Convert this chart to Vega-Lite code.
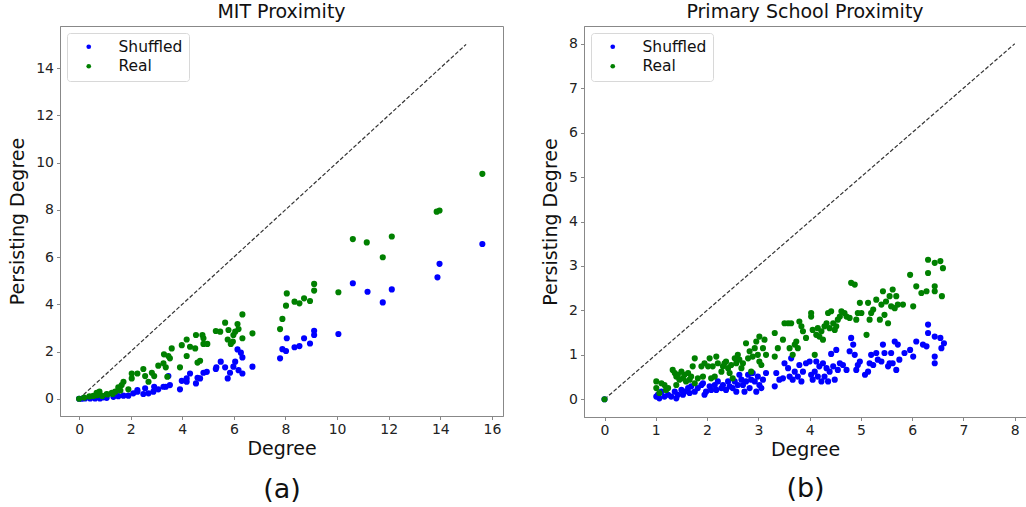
{
 "$schema": "https://vega.github.io/schema/vega-lite/v6.json",
 "padding": {"left": 8, "top": 2, "right": 0, "bottom": 0},
 "background": "white",
 "datasets": {
  "diagA": [{"d": 0, "p": 0}, {"d": 15, "p": 15}],
  "diagB": [{"d": 0, "p": 0}, {"d": 8, "p": 8}],
  "mit": [
   {"d":15.63,"p":6.55,"s":"Shuffled"},{"d":13.97,"p":5.71,"s":"Shuffled"},{"d":13.89,"p":5.14,"s":"Shuffled"},{"d":10.61,"p":4.89,"s":"Shuffled"},{"d":11.18,"p":4.53,"s":"Shuffled"},{"d":11.77,"p":4.08,"s":"Shuffled"},{"d":12.12,"p":4.63,"s":"Shuffled"},{"d":10.05,"p":2.74,"s":"Shuffled"},{"d":9.11,"p":2.88,"s":"Shuffled"},{"d":9.11,"p":2.7,"s":"Shuffled"},{"d":8.95,"p":2.34,"s":"Shuffled"},{"d":8.72,"p":2.56,"s":"Shuffled"},{"d":8.54,"p":2.23,"s":"Shuffled"},{"d":8.35,"p":2.18,"s":"Shuffled"},{"d":8.05,"p":2.56,"s":"Shuffled"},{"d":8.02,"p":2.02,"s":"Shuffled"},{"d":7.88,"p":2.1,"s":"Shuffled"},{"d":7.79,"p":1.71,"s":"Shuffled"},{"d":6.72,"p":1.36,"s":"Shuffled"},{"d":6.33,"p":1.75,"s":"Shuffled"},{"d":6.33,"p":1.07,"s":"Shuffled"},{"d":6.27,"p":1.95,"s":"Shuffled"},{"d":6.14,"p":2.09,"s":"Shuffled"},{"d":6.18,"p":1.21,"s":"Shuffled"},{"d":6.05,"p":1.57,"s":"Shuffled"},{"d":5.98,"p":1.36,"s":"Shuffled"},{"d":5.85,"p":1.1,"s":"Shuffled"},{"d":5.76,"p":0.86,"s":"Shuffled"},{"d":5.66,"p":1.33,"s":"Shuffled"},{"d":5.49,"p":1.57,"s":"Shuffled"},{"d":5.32,"p":1.33,"s":"Shuffled"},{"d":5.3,"p":1.26,"s":"Shuffled"},{"d":4.95,"p":1.14,"s":"Shuffled"},{"d":4.82,"p":1.1,"s":"Shuffled"},{"d":4.69,"p":0.86,"s":"Shuffled"},{"d":4.59,"p":0.89,"s":"Shuffled"},{"d":4.53,"p":0.65,"s":"Shuffled"},{"d":4.3,"p":1.07,"s":"Shuffled"},{"d":4.17,"p":0.86,"s":"Shuffled"},{"d":4.17,"p":0.72,"s":"Shuffled"},{"d":3.98,"p":0.76,"s":"Shuffled"},{"d":3.91,"p":0.4,"s":"Shuffled"},{"d":3.52,"p":0.58,"s":"Shuffled"},{"d":3.46,"p":0.96,"s":"Shuffled"},{"d":3.36,"p":0.51,"s":"Shuffled"},{"d":3.27,"p":0.51,"s":"Shuffled"},{"d":3.07,"p":0.4,"s":"Shuffled"},{"d":2.91,"p":0.51,"s":"Shuffled"},{"d":2.88,"p":0.3,"s":"Shuffled"},{"d":2.69,"p":0.23,"s":"Shuffled"},{"d":2.56,"p":0.44,"s":"Shuffled"},{"d":2.49,"p":0.2,"s":"Shuffled"},{"d":2.26,"p":0.3,"s":"Shuffled"},{"d":2.26,"p":0.37,"s":"Shuffled"},{"d":2.1,"p":0.23,"s":"Shuffled"},{"d":1.91,"p":0.13,"s":"Shuffled"},{"d":1.72,"p":0.13,"s":"Shuffled"},{"d":1.52,"p":0.11,"s":"Shuffled"},{"d":1.33,"p":0.08,"s":"Shuffled"},{"d":1.07,"p":0.04,"s":"Shuffled"},{"d":0.94,"p":0.06,"s":"Shuffled"},{"d":0.81,"p":0.01,"s":"Shuffled"},{"d":0.62,"p":0.01,"s":"Shuffled"},{"d":0.43,"p":0.01,"s":"Shuffled"},{"d":0.23,"p":0.01,"s":"Shuffled"},{"d":0.1,"p":0,"s":"Shuffled"},{"d":0,"p":0,"s":"Shuffled"},
   {"d":0,"p":0,"s":"Real"},{"d":0.2,"p":0.05,"s":"Real"},{"d":0.4,"p":0.1,"s":"Real"},{"d":0.55,"p":0.12,"s":"Real"},{"d":0.68,"p":0.25,"s":"Real"},{"d":0.79,"p":0.3,"s":"Real"},{"d":0.7,"p":0.15,"s":"Real"},{"d":0.9,"p":0.12,"s":"Real"},{"d":1.07,"p":0.2,"s":"Real"},{"d":1.1,"p":0.18,"s":"Real"},{"d":1.27,"p":0.25,"s":"Real"},{"d":1.3,"p":0.2,"s":"Real"},{"d":1.4,"p":0.3,"s":"Real"},{"d":1.52,"p":0.48,"s":"Real"},{"d":1.6,"p":0.35,"s":"Real"},{"d":1.65,"p":0.58,"s":"Real"},{"d":1.72,"p":0.72,"s":"Real"},{"d":1.91,"p":0.4,"s":"Real"},{"d":2.04,"p":0.86,"s":"Real"},{"d":2.04,"p":1.07,"s":"Real"},{"d":2.26,"p":1.07,"s":"Real"},{"d":2.49,"p":1.26,"s":"Real"},{"d":2.56,"p":0.96,"s":"Real"},{"d":2.69,"p":0.72,"s":"Real"},{"d":2.82,"p":1.1,"s":"Real"},{"d":2.91,"p":0.96,"s":"Real"},{"d":3.07,"p":1.4,"s":"Real"},{"d":3.27,"p":1.5,"s":"Real"},{"d":3.29,"p":1.88,"s":"Real"},{"d":3.36,"p":1.33,"s":"Real"},{"d":3.42,"p":0.93,"s":"Real"},{"d":3.46,"p":1.81,"s":"Real"},{"d":3.52,"p":1.71,"s":"Real"},{"d":3.59,"p":2.13,"s":"Real"},{"d":3.91,"p":1.33,"s":"Real"},{"d":3.98,"p":2.27,"s":"Real"},{"d":4.17,"p":2.51,"s":"Real"},{"d":4.17,"p":1.81,"s":"Real"},{"d":4.3,"p":2.2,"s":"Real"},{"d":4.5,"p":2.13,"s":"Real"},{"d":4.53,"p":2.7,"s":"Real"},{"d":4.59,"p":1.53,"s":"Real"},{"d":4.69,"p":1.61,"s":"Real"},{"d":4.78,"p":2.7,"s":"Real"},{"d":4.82,"p":2.56,"s":"Real"},{"d":4.82,"p":2.32,"s":"Real"},{"d":4.97,"p":2.32,"s":"Real"},{"d":5.3,"p":2.87,"s":"Real"},{"d":5.47,"p":2.84,"s":"Real"},{"d":5.66,"p":3.22,"s":"Real"},{"d":5.76,"p":2.51,"s":"Real"},{"d":5.79,"p":2.91,"s":"Real"},{"d":5.88,"p":2.32,"s":"Real"},{"d":5.96,"p":2.42,"s":"Real"},{"d":5.98,"p":2.7,"s":"Real"},{"d":6.05,"p":2.84,"s":"Real"},{"d":6.14,"p":3.16,"s":"Real"},{"d":6.18,"p":2.95,"s":"Real"},{"d":6.33,"p":3.57,"s":"Real"},{"d":6.33,"p":2.56,"s":"Real"},{"d":6.72,"p":2.77,"s":"Real"},{"d":7.79,"p":2.95,"s":"Real"},{"d":7.88,"p":3.38,"s":"Real"},{"d":8.02,"p":3.94,"s":"Real"},{"d":8.05,"p":4.46,"s":"Real"},{"d":8.35,"p":4.11,"s":"Real"},{"d":8.54,"p":4.04,"s":"Real"},{"d":8.72,"p":4.25,"s":"Real"},{"d":8.95,"p":4.14,"s":"Real"},{"d":9.11,"p":4.86,"s":"Real"},{"d":9.11,"p":4.58,"s":"Real"},{"d":10.05,"p":4.51,"s":"Real"},{"d":10.61,"p":6.76,"s":"Real"},{"d":11.15,"p":6.62,"s":"Real"},{"d":11.77,"p":5.99,"s":"Real"},{"d":12.12,"p":6.87,"s":"Real"},{"d":13.86,"p":7.92,"s":"Real"},{"d":13.97,"p":7.97,"s":"Real"},{"d":15.63,"p":9.52,"s":"Real"}
  ],
  "school": [
   {"d":0,"p":0,"s":"Shuffled"},{"d":1.01,"p":0.06,"s":"Shuffled"},{"d":1.04,"p":0.1,"s":"Shuffled"},{"d":1.07,"p":0.02,"s":"Shuffled"},{"d":1.11,"p":0.17,"s":"Shuffled"},{"d":1.17,"p":0.06,"s":"Shuffled"},{"d":1.24,"p":0.1,"s":"Shuffled"},{"d":1.3,"p":0.06,"s":"Shuffled"},{"d":1.37,"p":0.17,"s":"Shuffled"},{"d":1.4,"p":0.02,"s":"Shuffled"},{"d":1.43,"p":0.1,"s":"Shuffled"},{"d":1.5,"p":0.21,"s":"Shuffled"},{"d":1.53,"p":0.1,"s":"Shuffled"},{"d":1.56,"p":0.17,"s":"Shuffled"},{"d":1.63,"p":0.25,"s":"Shuffled"},{"d":1.66,"p":0.14,"s":"Shuffled"},{"d":1.69,"p":0.29,"s":"Shuffled"},{"d":1.76,"p":0.17,"s":"Shuffled"},{"d":1.82,"p":0.25,"s":"Shuffled"},{"d":1.89,"p":0.32,"s":"Shuffled"},{"d":1.92,"p":0.36,"s":"Shuffled"},{"d":1.95,"p":0.1,"s":"Shuffled"},{"d":1.98,"p":0.17,"s":"Shuffled"},{"d":2.05,"p":0.29,"s":"Shuffled"},{"d":2.08,"p":0.21,"s":"Shuffled"},{"d":2.15,"p":0.32,"s":"Shuffled"},{"d":2.18,"p":0.21,"s":"Shuffled"},{"d":2.21,"p":0.4,"s":"Shuffled"},{"d":2.28,"p":0.25,"s":"Shuffled"},{"d":2.31,"p":0.32,"s":"Shuffled"},{"d":2.37,"p":0.21,"s":"Shuffled"},{"d":2.41,"p":0.4,"s":"Shuffled"},{"d":2.44,"p":0.29,"s":"Shuffled"},{"d":2.5,"p":0.25,"s":"Shuffled"},{"d":2.54,"p":0.4,"s":"Shuffled"},{"d":2.57,"p":0.17,"s":"Shuffled"},{"d":2.6,"p":0.32,"s":"Shuffled"},{"d":2.63,"p":0.55,"s":"Shuffled"},{"d":2.67,"p":0.44,"s":"Shuffled"},{"d":2.7,"p":0.32,"s":"Shuffled"},{"d":2.73,"p":0.17,"s":"Shuffled"},{"d":2.76,"p":0.4,"s":"Shuffled"},{"d":2.8,"p":0.55,"s":"Shuffled"},{"d":2.83,"p":0.25,"s":"Shuffled"},{"d":2.86,"p":0.44,"s":"Shuffled"},{"d":2.89,"p":0.59,"s":"Shuffled"},{"d":2.93,"p":0.4,"s":"Shuffled"},{"d":2.96,"p":0.17,"s":"Shuffled"},{"d":2.99,"p":0.51,"s":"Shuffled"},{"d":3.02,"p":0.32,"s":"Shuffled"},{"d":3.06,"p":0.25,"s":"Shuffled"},{"d":3.09,"p":0.44,"s":"Shuffled"},{"d":3.15,"p":0.59,"s":"Shuffled"},{"d":3.32,"p":0.29,"s":"Shuffled"},{"d":3.35,"p":0.59,"s":"Shuffled"},{"d":3.41,"p":0.44,"s":"Shuffled"},{"d":3.48,"p":0.47,"s":"Shuffled"},{"d":3.51,"p":0.81,"s":"Shuffled"},{"d":3.58,"p":0.7,"s":"Shuffled"},{"d":3.61,"p":0.51,"s":"Shuffled"},{"d":3.64,"p":0.92,"s":"Shuffled"},{"d":3.67,"p":0.44,"s":"Shuffled"},{"d":3.71,"p":0.62,"s":"Shuffled"},{"d":3.77,"p":0.51,"s":"Shuffled"},{"d":3.8,"p":0.77,"s":"Shuffled"},{"d":3.84,"p":0.4,"s":"Shuffled"},{"d":3.87,"p":0.62,"s":"Shuffled"},{"d":3.93,"p":0.81,"s":"Shuffled"},{"d":4.0,"p":0.85,"s":"Shuffled"},{"d":4.03,"p":0.55,"s":"Shuffled"},{"d":4.06,"p":0.44,"s":"Shuffled"},{"d":4.1,"p":0.62,"s":"Shuffled"},{"d":4.13,"p":0.85,"s":"Shuffled"},{"d":4.16,"p":0.51,"s":"Shuffled"},{"d":4.19,"p":0.74,"s":"Shuffled"},{"d":4.23,"p":0.4,"s":"Shuffled"},{"d":4.26,"p":0.81,"s":"Shuffled"},{"d":4.29,"p":0.51,"s":"Shuffled"},{"d":4.33,"p":0.7,"s":"Shuffled"},{"d":4.36,"p":0.4,"s":"Shuffled"},{"d":4.39,"p":0.62,"s":"Shuffled"},{"d":4.42,"p":1.02,"s":"Shuffled"},{"d":4.46,"p":0.74,"s":"Shuffled"},{"d":4.49,"p":0.44,"s":"Shuffled"},{"d":4.52,"p":1.11,"s":"Shuffled"},{"d":4.55,"p":0.66,"s":"Shuffled"},{"d":4.59,"p":0.81,"s":"Shuffled"},{"d":4.65,"p":0.77,"s":"Shuffled"},{"d":4.72,"p":0.66,"s":"Shuffled"},{"d":4.78,"p":1.08,"s":"Shuffled"},{"d":4.81,"p":1.38,"s":"Shuffled"},{"d":4.85,"p":1.23,"s":"Shuffled"},{"d":4.88,"p":1.0,"s":"Shuffled"},{"d":4.91,"p":0.66,"s":"Shuffled"},{"d":4.94,"p":0.77,"s":"Shuffled"},{"d":4.98,"p":0.85,"s":"Shuffled"},{"d":5.08,"p":0.55,"s":"Shuffled"},{"d":5.14,"p":0.62,"s":"Shuffled"},{"d":5.17,"p":0.81,"s":"Shuffled"},{"d":5.2,"p":1.0,"s":"Shuffled"},{"d":5.24,"p":0.77,"s":"Shuffled"},{"d":5.3,"p":1.04,"s":"Shuffled"},{"d":5.33,"p":0.89,"s":"Shuffled"},{"d":5.4,"p":0.85,"s":"Shuffled"},{"d":5.43,"p":1.23,"s":"Shuffled"},{"d":5.46,"p":1.04,"s":"Shuffled"},{"d":5.53,"p":0.74,"s":"Shuffled"},{"d":5.56,"p":0.81,"s":"Shuffled"},{"d":5.59,"p":1.04,"s":"Shuffled"},{"d":5.62,"p":0.81,"s":"Shuffled"},{"d":5.66,"p":1.3,"s":"Shuffled"},{"d":5.69,"p":0.66,"s":"Shuffled"},{"d":5.72,"p":1.23,"s":"Shuffled"},{"d":5.75,"p":0.89,"s":"Shuffled"},{"d":5.85,"p":1.04,"s":"Shuffled"},{"d":5.96,"p":1.11,"s":"Shuffled"},{"d":6.02,"p":0.96,"s":"Shuffled"},{"d":6.08,"p":1.3,"s":"Shuffled"},{"d":6.21,"p":1.23,"s":"Shuffled"},{"d":6.28,"p":1.19,"s":"Shuffled"},{"d":6.31,"p":1.68,"s":"Shuffled"},{"d":6.31,"p":1.49,"s":"Shuffled"},{"d":6.44,"p":1.41,"s":"Shuffled"},{"d":6.44,"p":0.96,"s":"Shuffled"},{"d":6.44,"p":0.81,"s":"Shuffled"},{"d":6.55,"p":1.38,"s":"Shuffled"},{"d":6.57,"p":1.15,"s":"Shuffled"},{"d":6.62,"p":1.26,"s":"Shuffled"},
   {"d":0,"p":0,"s":"Real"},{"d":1.01,"p":0.4,"s":"Real"},{"d":1.01,"p":0.25,"s":"Real"},{"d":1.07,"p":0.14,"s":"Real"},{"d":1.11,"p":0.36,"s":"Real"},{"d":1.17,"p":0.32,"s":"Real"},{"d":1.2,"p":0.21,"s":"Real"},{"d":1.24,"p":0.25,"s":"Real"},{"d":1.33,"p":0.66,"s":"Real"},{"d":1.37,"p":0.59,"s":"Real"},{"d":1.4,"p":0.51,"s":"Real"},{"d":1.4,"p":0.32,"s":"Real"},{"d":1.43,"p":0.55,"s":"Real"},{"d":1.46,"p":0.44,"s":"Real"},{"d":1.5,"p":0.62,"s":"Real"},{"d":1.53,"p":0.47,"s":"Real"},{"d":1.56,"p":0.55,"s":"Real"},{"d":1.59,"p":0.4,"s":"Real"},{"d":1.63,"p":0.59,"s":"Real"},{"d":1.66,"p":0.44,"s":"Real"},{"d":1.69,"p":0.51,"s":"Real"},{"d":1.72,"p":0.74,"s":"Real"},{"d":1.76,"p":0.92,"s":"Real"},{"d":1.76,"p":0.36,"s":"Real"},{"d":1.82,"p":0.47,"s":"Real"},{"d":1.89,"p":0.74,"s":"Real"},{"d":1.92,"p":0.51,"s":"Real"},{"d":1.95,"p":0.81,"s":"Real"},{"d":2.02,"p":0.74,"s":"Real"},{"d":2.05,"p":0.92,"s":"Real"},{"d":2.08,"p":0.47,"s":"Real"},{"d":2.11,"p":0.74,"s":"Real"},{"d":2.15,"p":0.51,"s":"Real"},{"d":2.18,"p":0.96,"s":"Real"},{"d":2.21,"p":0.81,"s":"Real"},{"d":2.28,"p":0.62,"s":"Real"},{"d":2.31,"p":0.74,"s":"Real"},{"d":2.34,"p":0.81,"s":"Real"},{"d":2.37,"p":0.85,"s":"Real"},{"d":2.41,"p":0.7,"s":"Real"},{"d":2.44,"p":0.59,"s":"Real"},{"d":2.47,"p":0.77,"s":"Real"},{"d":2.5,"p":0.47,"s":"Real"},{"d":2.54,"p":0.92,"s":"Real"},{"d":2.57,"p":0.81,"s":"Real"},{"d":2.6,"p":1.0,"s":"Real"},{"d":2.63,"p":0.89,"s":"Real"},{"d":2.67,"p":0.7,"s":"Real"},{"d":2.7,"p":0.81,"s":"Real"},{"d":2.76,"p":1.26,"s":"Real"},{"d":2.8,"p":0.92,"s":"Real"},{"d":2.83,"p":1.08,"s":"Real"},{"d":2.86,"p":0.62,"s":"Real"},{"d":2.89,"p":0.96,"s":"Real"},{"d":2.93,"p":1.15,"s":"Real"},{"d":2.96,"p":1.3,"s":"Real"},{"d":2.99,"p":1.0,"s":"Real"},{"d":3.02,"p":1.41,"s":"Real"},{"d":3.02,"p":0.85,"s":"Real"},{"d":3.06,"p":0.77,"s":"Real"},{"d":3.09,"p":1.15,"s":"Real"},{"d":3.12,"p":1.34,"s":"Real"},{"d":3.15,"p":1.0,"s":"Real"},{"d":3.32,"p":1.49,"s":"Real"},{"d":3.32,"p":0.96,"s":"Real"},{"d":3.38,"p":1.15,"s":"Real"},{"d":3.48,"p":1.34,"s":"Real"},{"d":3.51,"p":1.71,"s":"Real"},{"d":3.58,"p":1.71,"s":"Real"},{"d":3.61,"p":1.15,"s":"Real"},{"d":3.64,"p":1.71,"s":"Real"},{"d":3.67,"p":1.0,"s":"Real"},{"d":3.71,"p":1.23,"s":"Real"},{"d":3.74,"p":1.3,"s":"Real"},{"d":3.77,"p":1.15,"s":"Real"},{"d":3.8,"p":1.75,"s":"Real"},{"d":3.84,"p":1.64,"s":"Real"},{"d":3.87,"p":1.53,"s":"Real"},{"d":3.93,"p":1.38,"s":"Real"},{"d":4.03,"p":1.94,"s":"Real"},{"d":4.03,"p":1.86,"s":"Real"},{"d":4.06,"p":1.56,"s":"Real"},{"d":4.1,"p":1.0,"s":"Real"},{"d":4.13,"p":1.45,"s":"Real"},{"d":4.16,"p":1.6,"s":"Real"},{"d":4.19,"p":1.41,"s":"Real"},{"d":4.23,"p":1.53,"s":"Real"},{"d":4.26,"p":1.34,"s":"Real"},{"d":4.29,"p":1.64,"s":"Real"},{"d":4.33,"p":1.71,"s":"Real"},{"d":4.36,"p":1.94,"s":"Real"},{"d":4.39,"p":1.6,"s":"Real"},{"d":4.42,"p":1.98,"s":"Real"},{"d":4.46,"p":1.71,"s":"Real"},{"d":4.49,"p":1.56,"s":"Real"},{"d":4.52,"p":1.64,"s":"Real"},{"d":4.55,"p":1.79,"s":"Real"},{"d":4.59,"p":1.86,"s":"Real"},{"d":4.62,"p":1.98,"s":"Real"},{"d":4.68,"p":1.94,"s":"Real"},{"d":4.72,"p":1.86,"s":"Real"},{"d":4.78,"p":1.83,"s":"Real"},{"d":4.81,"p":2.62,"s":"Real"},{"d":4.88,"p":2.58,"s":"Real"},{"d":4.91,"p":1.79,"s":"Real"},{"d":4.94,"p":1.94,"s":"Real"},{"d":4.98,"p":2.17,"s":"Real"},{"d":5.01,"p":1.94,"s":"Real"},{"d":5.11,"p":1.45,"s":"Real"},{"d":5.14,"p":2.17,"s":"Real"},{"d":5.17,"p":1.79,"s":"Real"},{"d":5.2,"p":1.94,"s":"Real"},{"d":5.24,"p":2.02,"s":"Real"},{"d":5.3,"p":2.24,"s":"Real"},{"d":5.37,"p":1.79,"s":"Real"},{"d":5.4,"p":2.13,"s":"Real"},{"d":5.43,"p":2.43,"s":"Real"},{"d":5.46,"p":1.9,"s":"Real"},{"d":5.49,"p":2.2,"s":"Real"},{"d":5.53,"p":1.71,"s":"Real"},{"d":5.56,"p":2.32,"s":"Real"},{"d":5.59,"p":2.09,"s":"Real"},{"d":5.62,"p":2.47,"s":"Real"},{"d":5.66,"p":2.05,"s":"Real"},{"d":5.69,"p":2.32,"s":"Real"},{"d":5.72,"p":2.13,"s":"Real"},{"d":5.82,"p":2.13,"s":"Real"},{"d":5.96,"p":2.8,"s":"Real"},{"d":6.02,"p":2.09,"s":"Real"},{"d":6.08,"p":2.54,"s":"Real"},{"d":6.18,"p":2.39,"s":"Real"},{"d":6.28,"p":2.43,"s":"Real"},{"d":6.31,"p":3.14,"s":"Real"},{"d":6.31,"p":2.84,"s":"Real"},{"d":6.44,"p":3.07,"s":"Real"},{"d":6.44,"p":2.54,"s":"Real"},{"d":6.44,"p":2.43,"s":"Real"},{"d":6.55,"p":3.11,"s":"Real"},{"d":6.58,"p":2.32,"s":"Real"},{"d":6.6,"p":2.95,"s":"Real"}
  ]
 },
 "spacing": 37,
 "hconcat": [
  {
   "width": 443, "height": 390,
   "title": "MIT Proximity",
   "layer": [
    {
     "data": {"name": "diagA"},
     "mark": {"type": "line", "strokeDash": [4, 2], "color": "#333", "strokeWidth": 1.2},
     "encoding": {
      "x": {"field": "d", "type": "quantitative", "scale": {"domain": [-0.74, 16.43], "nice": false, "zero": false},
            "axis": {"orient": "bottom", "title": "(a)", "labels": false, "ticks": false, "domain": false, "titleFontSize": 27, "titlePadding": 60}},
      "y": {"field": "p", "type": "quantitative", "scale": {"domain": [-0.73, 15.78], "nice": false, "zero": false},
            "axis": {"title": "Persisting Degree", "values": [0, 2, 4, 6, 8, 10, 12, 14]}}
     }
    },
    {
     "data": {"name": "mit"},
     "mark": {"type": "circle", "size": 38, "opacity": 1},
     "encoding": {
      "x": {"field": "d", "type": "quantitative", "axis": {"orient": "bottom", "title": "Degree", "values": [0, 2, 4, 6, 8, 10, 12, 14, 16]}},
      "y": {"field": "p", "type": "quantitative"},
      "color": {"field": "s", "type": "nominal", "sort": null, "scale": {"domain": ["Shuffled", "Real"], "range": ["#0000ff", "#008000"]}, "legend": {"title": null}}
     }
    }
   ],
   "resolve": {"axis": {"x": "independent"}}
  },
  {
   "width": 442, "height": 391,
   "title": "Primary School Proximity",
   "layer": [
    {
     "data": {"name": "diagB"},
     "mark": {"type": "line", "strokeDash": [4, 2], "color": "#333", "strokeWidth": 1.2},
     "encoding": {
      "x": {"field": "d", "type": "quantitative", "scale": {"domain": [-0.4, 8.22], "nice": false, "zero": false},
            "axis": {"orient": "bottom", "title": "(b)", "labels": false, "ticks": false, "domain": false, "titleFontSize": 27, "titlePadding": 58}},
      "y": {"field": "p", "type": "quantitative", "scale": {"domain": [-0.4, 8.4], "nice": false, "zero": false},
            "axis": {"title": "Persisting Degree", "values": [0, 1, 2, 3, 4, 5, 6, 7, 8]}}
     }
    },
    {
     "data": {"name": "school"},
     "mark": {"type": "circle", "size": 38, "opacity": 1},
     "encoding": {
      "x": {"field": "d", "type": "quantitative", "axis": {"orient": "bottom", "title": "Degree", "values": [0, 1, 2, 3, 4, 5, 6, 7, 8]}},
      "y": {"field": "p", "type": "quantitative"},
      "color": {"field": "s", "type": "nominal", "sort": null, "scale": {"domain": ["Shuffled", "Real"], "range": ["#0000ff", "#008000"]}, "legend": {"title": null}}
     }
    }
   ],
   "resolve": {"axis": {"x": "independent"}}
  }
 ],
 "resolve": {"scale": {"color": "independent"}, "legend": {"color": "independent"}},
 "config": {
  "view": {"stroke": "#888", "strokeWidth": 1},
  "axis": {"grid": false, "domainColor": "#888", "tickColor": "#888", "tickSize": 3.5, "labelFont": "DejaVu Sans", "labelFontSize": 14, "labelColor": "#222", "labelPadding": 3, "titleFont": "DejaVu Sans", "titleFontSize": 19, "titleFontWeight": "normal", "titleColor": "#111", "titlePadding": 3},
  "axisY": {"titlePadding": 8},
  "title": {"font": "DejaVu Sans", "fontSize": 19, "fontWeight": "normal", "color": "#111", "offset": 4, "frame": "group"},
  "legend": {"orient": "top-left", "offset": 7, "padding": 6, "symbolOffset": 8, "labelOffset": 22, "rowPadding": 2.5, "symbolType": "circle", "symbolSize": 22, "symbolStrokeWidth": 0, "labelFont": "DejaVu Sans", "labelFontSize": 15.5, "labelColor": "#111", "strokeColor": "#d8d8d8", "cornerRadius": 3, "fillColor": "white"}
 }
}
